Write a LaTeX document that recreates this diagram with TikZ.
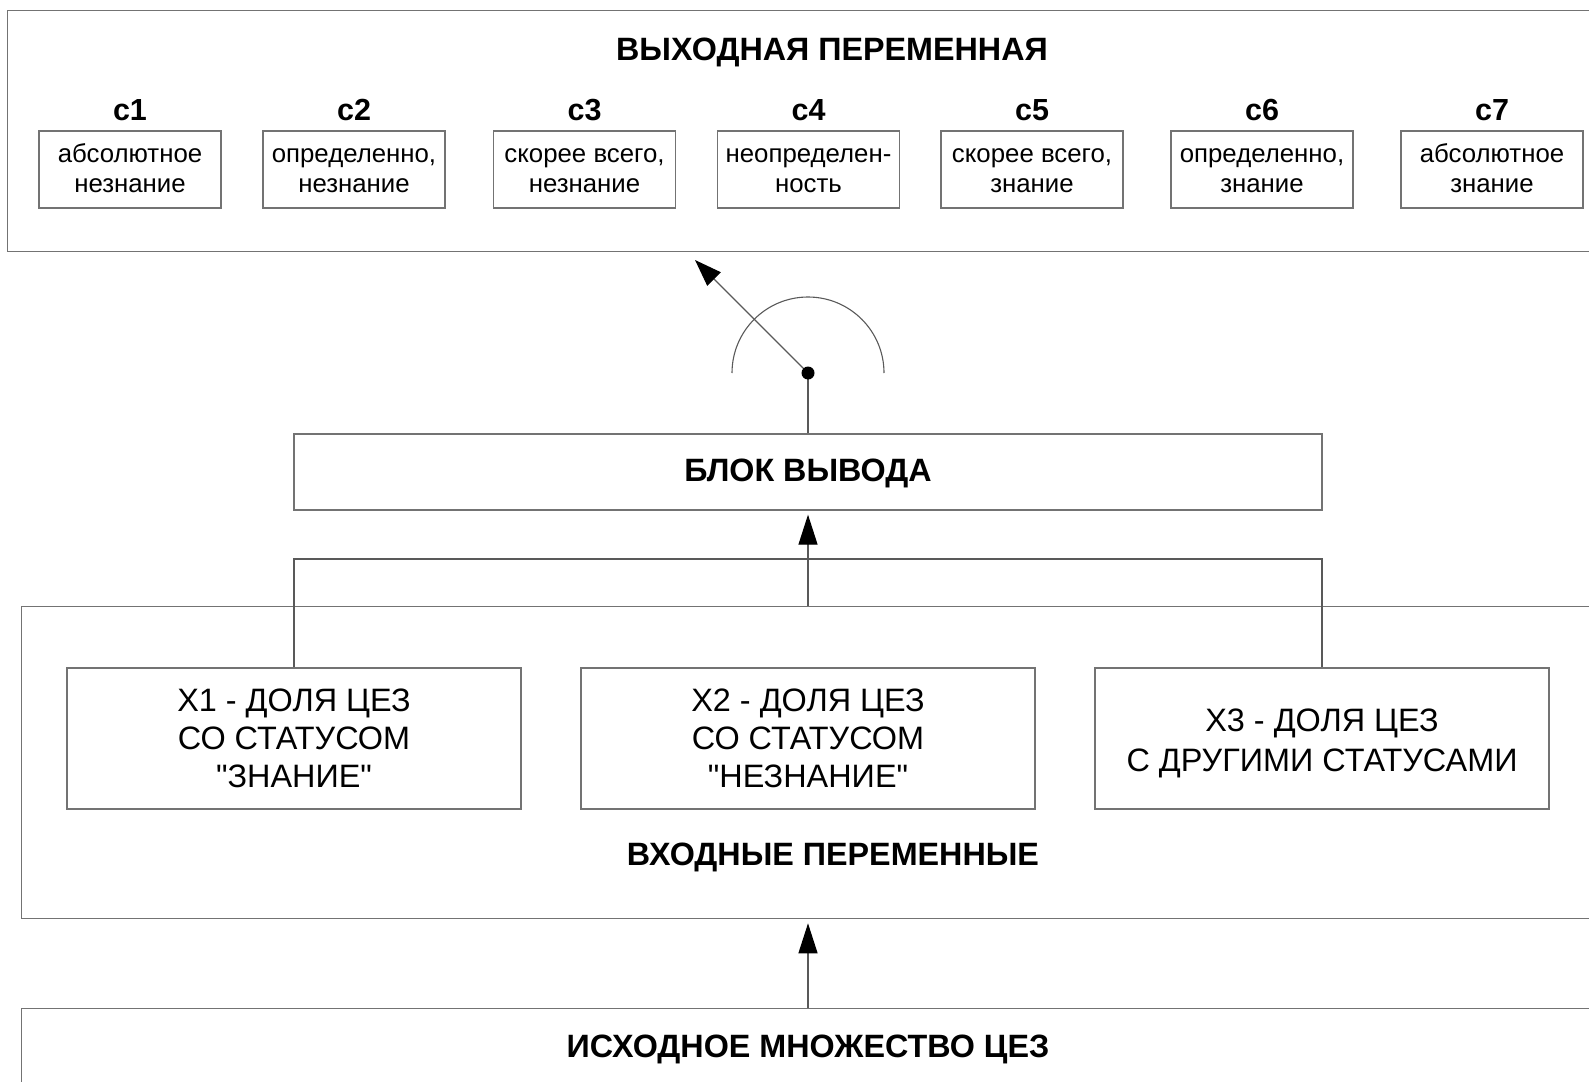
\documentclass[tikz,border=0pt]{standalone}
\usepackage{fontspec}
\setmainfont{Liberation Sans}
\usetikzlibrary{arrows.meta}
% straight double quote, set as a glyph so that no TeX mapping curls it
\newcommand\straightquote{\XeTeXglyph\XeTeXcharglyph"22\relax}
% line struts that centre each line on its x-height / cap height
\newcommand\lowstrut{\rule[-7pt]{0pt}{30.4pt}}
\newcommand\capstrut{\rule[-8.5pt]{0pt}{38pt}}
\newcommand\capstrutlow{\rule[-6pt]{0pt}{38pt}}
\begin{document}
\begin{tikzpicture}[x=1pt,y=-1pt,
  frame/.style={draw=black!55, line width=1.3pt},
  panel/.style={frame, anchor=north west, inner sep=0pt},
  cbox/.style={frame, minimum width=182pt, minimum height=77pt, inner sep=0pt,
    align=center, font=\fontsize{25.8}{30.4}\selectfont},
  clabel/.style={anchor=base, font=\fontsize{30.5}{36}\selectfont\bfseries},
  heading/.style={anchor=base, font=\fontsize{32.3}{38}\selectfont\bfseries},
  xbox/.style={frame, minimum width=454pt, minimum height=141pt, inner sep=0pt,
    align=center, font=\fontsize{32.4}{38}\selectfont},
  wire/.style={draw=black!65, line width=1.2pt},
  arr/.style={wire, shorten >=4pt, -{Triangle[length=30pt,width=19pt,color=black]}},
]
\useasboundingbox (0,0) rectangle (1589,1081);
\clip (0,0) rectangle (1589,1081);

% output variable panel with its seven terms
\node[panel, minimum width=1650pt, minimum height=241pt] (outpanel) at (7,10) {};
\node[heading] (outtitle) at (832,60.6) {ВЫХОДНАЯ ПЕРЕМЕННАЯ};
\foreach \i/\cx/\ta/\tb in {1/130/абсолютное/незнание,
                           2/354/{определенно,}/незнание,
                           3/584.5/{скорее всего,}/незнание,
                           4/808.5/неопределен-/ность,
                           5/1032/{скорее всего,}/знание,
                           6/1262/{определенно,}/знание,
                           7/1492/абсолютное/знание}{
  \node[clabel] (lab\i) at (\cx,120.3) {c\i};
  \node[cbox] (c\i) at (\cx,169.5) {\lowstrut\ta\\\lowstrut\tb};
}

% inference block
\node[frame, minimum width=1028pt, minimum height=76pt, inner sep=0pt] (block) at (808,472) {};
\node[heading] (blocktitle) at (808,481.8) {БЛОК ВЫВОДА};

% gauge with pointer
\coordinate (pivot) at (808,373);
\coordinate (tip) at (695,260);
\draw[wire] (block.north) -- (pivot);
\draw[wire, line width=1.1pt] (pivot) ++(76,0) arc[start angle=0, end angle=180, radius=76pt];
\draw[wire, -{Triangle[length=27pt,width=19pt,color=black]}] (pivot) -- (tip);
\fill (pivot) circle[radius=6.5pt];

% input variables panel
\node[panel, minimum width=1650pt, minimum height=312pt] (inpanel) at (21,606) {};
\node[xbox] (x1) at (294,738.5)
  {\capstrut X1 - ДОЛЯ ЦЕЗ\\\capstrut СО СТАТУСОМ\\\capstrut\straightquote ЗНАНИЕ\straightquote};
\node[xbox] (x2) at (808,738.5)
  {\capstrut X2 - ДОЛЯ ЦЕЗ\\\capstrut СО СТАТУСОМ\\\capstrut\straightquote НЕЗНАНИЕ\straightquote};
\node[xbox] (x3) at (1322,738.5)
  {\capstrutlow X3 - ДОЛЯ ЦЕЗ\\\capstrutlow С ДРУГИМИ СТАТУСАМИ};
\node[heading] (intitle) at (833,865.9) {ВХОДНЫЕ ПЕРЕМЕННЫЕ};

% connections into the inference block
\coordinate (bus) at (808,559);
\draw[wire] (x1.north) |- (bus) -| (x3.north);
\draw[arr] (block.south |- inpanel.north) -- (block.south);

% source set
\node[panel, minimum width=1650pt, minimum height=200pt] (source) at (21,1008) {};
\node[heading] (srctitle) at (808,1057.4) {ИСХОДНОЕ МНОЖЕСТВО ЦЕЗ};
\draw[arr] (block.south |- source.north) -- (block.south |- inpanel.south);
\end{tikzpicture}
\end{document}
